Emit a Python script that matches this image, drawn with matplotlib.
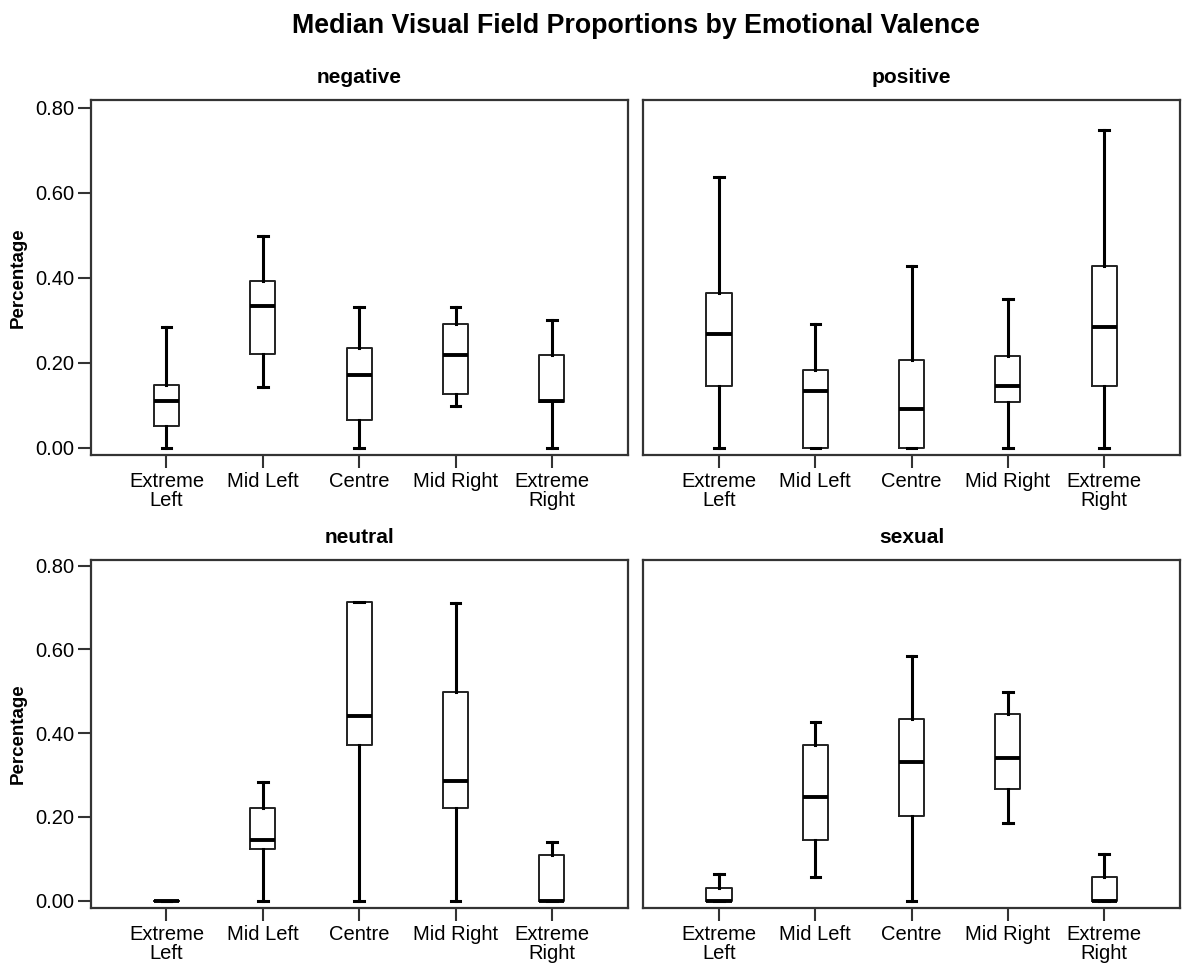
import matplotlib
matplotlib.use("Agg")
import matplotlib.pyplot as plt

plt.rcParams['font.family'] = ['Liberation Sans', 'DejaVu Sans']

categories = ["Extreme\nLeft", "Mid Left", "Centre", "Mid Right", "Extreme\nRight"]
panels = ["negative", "positive", "neutral", "sexual"]

# whisker low, Q1, median, Q3, whisker high for each category
negative_lo  = [0.000, 0.143, 0.000, 0.099, 0.000]
negative_q1  = [0.051, 0.221, 0.065, 0.126, 0.108]
negative_med = [0.111, 0.333, 0.171, 0.218, 0.111]
negative_q3  = [0.148, 0.392, 0.235, 0.290, 0.218]
negative_hi  = [0.285, 0.498, 0.332, 0.332, 0.300]

positive_lo  = [0.000, 0.000, 0.000, 0.000, 0.000]
positive_q1  = [0.144, 0.000, 0.000, 0.108, 0.144]
positive_med = [0.267, 0.133, 0.091, 0.144, 0.285]
positive_q3  = [0.363, 0.182, 0.207, 0.215, 0.427]
positive_hi  = [0.637, 0.290, 0.427, 0.349, 0.747]

neutral_lo  = [0.000, 0.000, 0.000, 0.000, 0.000]
neutral_q1  = [0.000, 0.123, 0.373, 0.222, 0.000]
neutral_med = [0.000, 0.145, 0.442, 0.286, 0.000]
neutral_q3  = [0.000, 0.222, 0.714, 0.498, 0.109]
neutral_hi  = [0.000, 0.284, 0.714, 0.712, 0.141]

sexual_lo  = [0.000, 0.057, 0.000, 0.185, 0.000]
sexual_q1  = [0.000, 0.145, 0.203, 0.267, 0.000]
sexual_med = [0.000, 0.248, 0.332, 0.341, 0.000]
sexual_q3  = [0.031, 0.373, 0.435, 0.445, 0.056]
sexual_hi  = [0.063, 0.427, 0.585, 0.498, 0.111]

data = {
    "negative": (negative_lo, negative_q1, negative_med, negative_q3, negative_hi),
    "positive": (positive_lo, positive_q1, positive_med, positive_q3, positive_hi),
    "neutral": (neutral_lo, neutral_q1, neutral_med, neutral_q3, neutral_hi),
    "sexual": (sexual_lo, sexual_q1, sexual_med, sexual_q3, sexual_hi),
}

W, H = 1184, 967
fig = plt.figure(figsize=(W / 100, H / 100), dpi=100)

# panel rectangles in pixels: left, right, top, bottom
rects = {
    "negative": (90.7, 627.7, 100, 455),
    "positive": (643.3, 1180, 100, 455),
    "neutral": (90.7, 627.7, 560, 907.7),
    "sexual": (643.3, 1180, 560, 907.7),
}

for name in panels:
    l, r, t, b = rects[name]
    ax = fig.add_axes([l / W, 1 - b / H, (r - l) / W, (b - t) / H])
    lo, q1, med, q3, hi = data[name]
    stats = []
    for i in range(len(categories)):
        stats.append(dict(whislo=lo[i], q1=q1[i], med=med[i], q3=q3[i],
                          whishi=hi[i], fliers=[]))
    ax.bxp(stats, positions=range(1, 6), widths=0.26, capwidths=0.1,
           showfliers=False,
           boxprops=dict(color="#222222", linewidth=1.4),
           whiskerprops=dict(color="black", linewidth=2.2),
           capprops=dict(color="black", linewidth=2.2),
           medianprops=dict(color="black", linewidth=2.8, solid_capstyle="butt"))
    ax.set_xlim(0.214, 5.786)
    if name in ("negative", "positive"):
        ax.set_ylim(-0.0172, 0.818)
    else:
        ax.set_ylim(-0.0167, 0.8136)
    ax.set_xticks(range(1, 6))
    ax.set_xticklabels(categories, fontsize=14.5, linespacing=1.0)
    ax.set_yticks([0, 0.2, 0.4, 0.6, 0.8])
    ax.tick_params(axis="both", direction="out", length=9.5, width=1.5,
                   color="#333333", labelcolor="black", pad=2)
    ax.tick_params(axis="x", pad=3)
    if name in ("negative", "neutral"):
        ax.set_yticklabels(["0.00", "0.20", "0.40", "0.60", "0.80"], fontsize=14.5)
        fig.text(18 / W, 1 - ((t + b) / 2) / H, "Percentage", rotation=90,
                 ha="center", va="center", fontsize=13.5, fontweight="bold")
    else:
        ax.tick_params(axis="y", left=False, labelleft=False)
    for sp in ax.spines.values():
        sp.set_color("#333333")
        sp.set_linewidth(1.6)
    ax.set_title(name, fontsize=15, fontweight="bold", pad=12)

fig.text(636 / W, 1 - 33 / H, "Median Visual Field Proportions by Emotional Valence",
         ha="center", va="baseline", fontsize=19.3, fontweight="bold")

fig.savefig("out.png", dpi=100, facecolor="white")
